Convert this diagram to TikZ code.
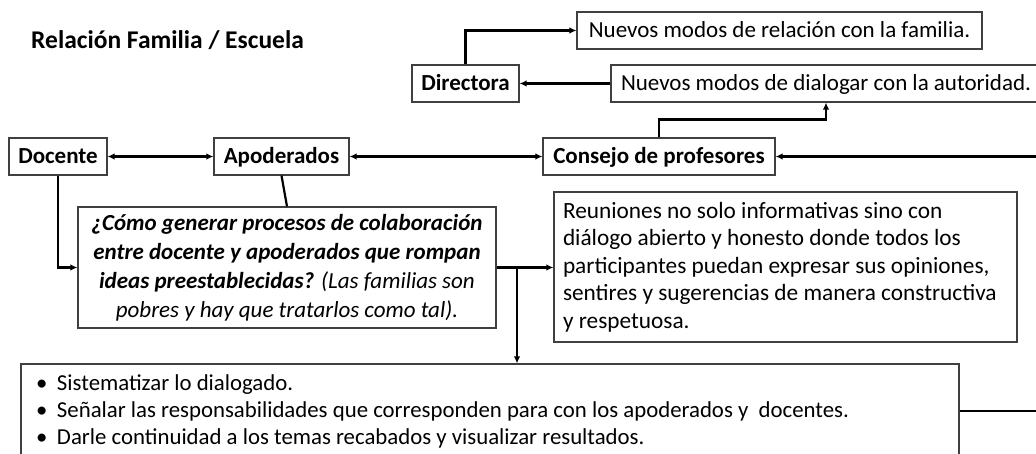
\documentclass[tikz,border=0pt]{standalone}
\usepackage{fontspec}
\setmainfont{Carlito}
\usetikzlibrary{arrows.meta,calc}
\begin{document}
\begin{tikzpicture}[x=1pt,y=-1pt,
  box/.style={draw=black!75, line width=1.1pt, fill=white, inner sep=0pt, font=\fontsize{23}{28}\selectfont},
  bbox/.style={box, font=\fontsize{23}{28}\selectfont\bfseries},
  one/.style={text height=19pt, text depth=5pt},
  conn/.style={line width=2.2pt, black},
  tip/.style={-{Latex[length=7pt,width=6.5pt]}},
  tips/.style={{Latex[length=7pt,width=6.5pt]}-{Latex[length=7pt,width=6.5pt]}}]
\useasboundingbox (0,0) rectangle (1036,454);
\clip (0,0) rectangle (1036,454);
\fill[white] (0,0) rectangle (1036,454);

\node[anchor=west, inner sep=0pt, font=\fontsize{25.5}{30}\selectfont\bfseries] (title) at (31,40) {Relación Familia / Escuela};

\node[bbox, one, minimum width=98, minimum height=37] (doc) at (58,156.5) {Docente};
\node[bbox, one, minimum width=135, minimum height=37] (apo) at (281.5,156.5) {Apoderados};
\node[bbox, one, minimum width=232, minimum height=37] (con) at (659,156.5) {Consejo de profesores};
\node[bbox, one, minimum width=107, minimum height=37] (dir) at (465.5,83.5) {Directora};
\node[box, one, minimum width=405, minimum height=37] (rel) at (779.5,30.5) {Nuevos modos de relación con la familia.};
\node[box, one, minimum width=430, minimum height=37, text width=410, inner xsep=10pt, align=flush left] (dia) at (826,83.5) {Nuevos modos de dialogar con la autoridad.};

\node[box, minimum width=418, minimum height=121, align=flush center, font=\fontsize{23}{29}\selectfont] (q) at (287,267.5)
  {\bfseries\itshape ¿Cómo generar procesos de colaboración\\
   \bfseries\itshape entre docente y apoderados que rompan\\
   \bfseries\itshape ideas preestablecidas? \mdseries\itshape(Las familias son\\
   \mdseries\itshape pobres y hay que tratarlos como tal).};

\node[box, minimum width=463, minimum height=150, text width=445, align=flush left, font=\fontsize{23.3}{27.5}\selectfont] (reu) at (785.5,267)
  {Reuniones no solo informativas sino con\\
   diálogo abierto y honesto donde todos los\\
   participantes puedan expresar sus opiniones,\\
   sentires y sugerencias de manera constructiva\\
   y respetuosa.};

\node[box, minimum width=938, minimum height=94, text width=908, align=flush left, font=\fontsize{22.8}{27}\selectfont] (bot) at (490,411)
  {\makebox[21pt][l]{•}Sistematizar lo dialogado.\\
   \makebox[21pt][l]{•}Señalar las responsabilidades que corresponden para con los apoderados y~ docentes.\\
   \makebox[21pt][l]{•}Darle continuidad a los temas recabados y visualizar resultados.};

\coordinate (eR) at (1045,156.5);
\coordinate (eB) at (1045,411);
\coordinate (j) at (517,267.5);

\draw[conn, tips] (doc) -- (apo);
\draw[conn, tips] (apo) -- (con);
\draw[conn, tip] (eR) -- (con.east);
\draw[conn, tip] (con.north) -- ++(0,-18) -| (dia.south);
\draw[conn, tip] (dia.west) -- (dir.east);
\draw[conn, tip] (dir.north) |- (rel.west);
\draw[conn] (apo.south) -- (q.north);
\draw[conn, tip] (doc.south) |- (q.west);
\draw[conn, tip] (q.east) -- (q.east -| reu.west);
\draw[conn, tip] (j) -- (j |- bot.north);
\draw[conn] (bot.east) -- (eB);
\end{tikzpicture}
\end{document}
